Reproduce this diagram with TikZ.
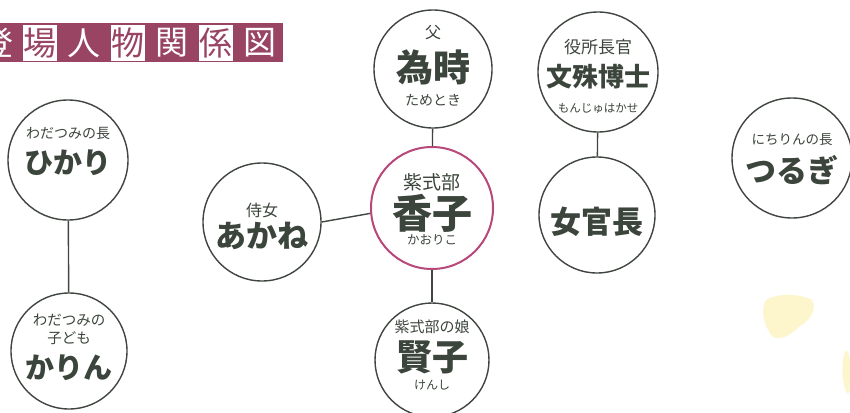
\documentclass[tikz,border=0pt]{standalone}
\usepackage{fontspec}
\newfontfamily\jp{Noto Sans CJK JP}
\newcommand\jsz[1]{\fontsize{#1}{#1}\selectfont}
\definecolor{ink}{HTML}{3B453B}
\definecolor{cline}{HTML}{3F453F}
\definecolor{pinkc}{HTML}{B8487A}
\definecolor{maroon}{HTML}{984462}
\definecolor{blob}{HTML}{FBEB8C}
\tikzset{
  person/.style={circle, draw=cline, line width=1.4pt, minimum size=#1, inner sep=0pt},
  lbl/.style={font=\jp\jsz{#1}, text=ink, inner sep=0pt},
  nm/.style={font=\jp\bfseries\jsz{#1}, text=ink, inner sep=0pt},
  link/.style={draw=cline, line width=1.4pt},
  tw/.style={font=\jp\jsz{33}, text=white, inner sep=0pt},
  tb/.style={font=\jp\jsz{33}, text=maroon, fill=white, minimum width=34pt, minimum height=35pt, inner sep=0pt}
}
\begin{document}
\begin{tikzpicture}[x=1pt,y=-1pt]
\useasboundingbox (0,0) rectangle (850,412);
\clip (0,0) rectangle (850,412);
\fill[white] (0,0) rectangle (850,412);
% faint yellow smudges
\fill[blob, opacity=0.45] (766,300) .. controls (780,292) and (800,294) .. (812,300)
  .. controls (818,310) and (808,322) .. (800,326) .. controls (792,334) and (780,342) .. (772,336)
  .. controls (764,326) and (760,310) .. (766,300) -- cycle;
\fill[blob, opacity=0.45] (846,350) .. controls (852,352) and (852,392) .. (848,394)
  .. controls (842,388) and (840,360) .. (846,350) -- cycle;
% title banner
\node[fill=maroon, minimum width=283pt, minimum height=39pt, inner sep=0pt, anchor=north west] (banner) at (0,23) {};
\node[tw] (t1) at (-3,43) {登};
\node[tb] (t2) at (40,43) {場};
\node[tw] (t3) at (84,43) {人};
\node[tb] (t4) at (128,43) {物};
\node[tw] (t5) at (172,43) {関};
\node[tb] (t6) at (216,43) {係};
\node[tw] (t7) at (260,43) {図};
% circles
\node[person=120pt] (hik) at (68,160) {};
\node[person=116pt] (kar) at (69,351) {};
\node[person=118pt] (ake) at (262,222) {};
\node[person=122pt, draw=pinkc, line width=2pt] (kao) at (432,208) {};
\node[person=118pt] (tam) at (433,69) {};
\node[person=120pt] (mon) at (598,72) {};
\node[person=116pt] (nyo) at (597,215) {};
\node[person=120pt] (tsu) at (792,158) {};
\node[person=114pt] (ken) at (432,360) {};
% connectors
\draw[link] (hik) -- (kar);
\draw[link] (tam) -- (kao);
\draw[link] (kao) -- (ken);
\draw[link] (mon) -- (nyo);
\draw[link] (ake.east) -- (kao.185);
% texts
\node[lbl=14] (hikl) at (68,133) {わだつみの長};
\node[nm=29] (hikn) at (68,163) {ひかり};
\node[lbl=14.5] (karl1) at (69,320) {わだつみの};
\node[lbl=14.5] (karl2) at (69,338) {子ども};
\node[nm=29] (karn) at (69,368) {かりん};
\node[lbl=16] (akel) at (262,210) {侍女};
\node[nm=31] (aken) at (262,236) {あかね};
\node[lbl=19] (kaol) at (432,182) {紫式部};
\node[nm=40] (kaon) at (432,213) {香子};
\node[lbl=12.5] (kaor) at (432,240) {かおりこ};
\node[lbl=16] (taml) at (433,33) {父};
\node[nm=37] (tamn) at (433,67) {為時};
\node[lbl=14] (tamr) at (433,100) {ためとき};
\node[lbl=17] (monl) at (598,47) {役所長官};
\node[nm=26] (monn) at (598,77) {文殊博士};
\node[lbl=11.5] (monr) at (598,108) {もんじゅはかせ};
\node[nm=31] (nyon) at (597,222) {女官長};
\node[lbl=13.5] (tsul) at (792,140) {にちりんの長};
\node[nm=31] (tsun) at (792,170) {つるぎ};
\node[lbl=15] (kenl) at (432,327) {紫式部の娘};
\node[nm=36] (kenn) at (432,357) {賢子};
\node[lbl=12] (kenr) at (432,385) {けんし};
\end{tikzpicture}
\end{document}
